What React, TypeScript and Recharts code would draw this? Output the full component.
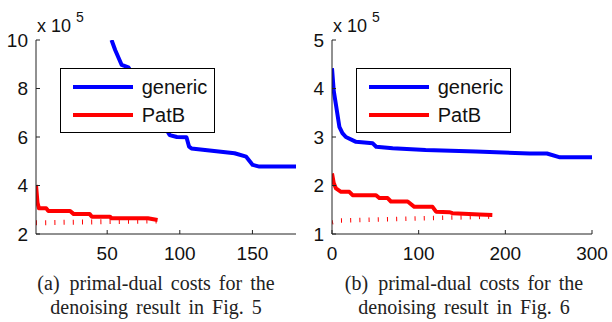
import React from 'react';
import { LineChart, Line, XAxis, YAxis, Legend } from 'recharts';

// ---------- Panel (a) ----------
const aGenericIter = [53, 55.5, 60, 64.6, 70, 78, 86, 93, 98, 104.6, 106.4, 108, 120.5, 137.7, 145.7, 150.2, 154.8, 180];
const aGenericCost = [10, 9.59, 8.97, 8.87, 8.4, 7.6, 6.8, 6.08, 6.0, 5.99, 5.6, 5.53, 5.44, 5.33, 5.19, 4.85, 4.78, 4.78];
const aPatBIter = [1, 2, 3, 8, 9.5, 24.5, 27, 38, 39.5, 52, 53, 78, 84.7];
const aPatBCost = [4.02, 3.3, 3.06, 3.06, 2.95, 2.95, 2.82, 2.82, 2.71, 2.71, 2.65, 2.65, 2.58];
const aDualIter = [1, 30, 60, 84];
const aDualCost = [2.46, 2.49, 2.52, 2.54];
const aXTicks = [50, 100, 150];
const aYTicks = [2, 4, 6, 8, 10];

// ---------- Panel (b) ----------
const bGenericIter = [0, 2, 4.6, 8.5, 12, 16, 27.7, 47, 51, 70, 108, 166, 228, 248, 263, 300];
const bGenericCost = [4.42, 3.95, 3.66, 3.21, 3.08, 3.0, 2.9, 2.87, 2.8, 2.77, 2.73, 2.7, 2.66, 2.66, 2.58, 2.58];
const bPatBIter = [0, 2, 4.6, 10.4, 20, 23.8, 50.8, 54.6, 64.2, 68, 87.3, 95, 116, 120, 135.4, 139, 158, 170, 185];
const bPatBCost = [2.25, 2.05, 1.94, 1.87, 1.87, 1.8, 1.8, 1.74, 1.74, 1.67, 1.67, 1.56, 1.56, 1.46, 1.45, 1.43, 1.41, 1.4, 1.39];
const bDualIter = [0, 10, 100, 185];
const bDualCost = [1.24, 1.28, 1.32, 1.36];
const bXTicks = [0, 100, 200, 300];
const bYTicks = [1, 2, 3, 4, 5];

const seriesNames = ['generic', 'PatB'];
const captionA = ['(a)\u2002primal-dual costs for the', 'denoising result in Fig. 5'];
const captionB = ['(b)\u2002primal-dual costs for the', 'denoising result in Fig. 6'];

const zip = (xs: number[], ys: number[]) => xs.map((x, i) => ({ x, y: ys[i] }));

const SANS = '"Liberation Sans", Arial, Helvetica, sans-serif';
const SERIF = '"Liberation Serif", "Times New Roman", Times, serif';
const BLUE = '#0000ff';
const RED = '#ff0000';
const INK = '#111111';

const renderLegend = (props: any) => {
  const items = (props.payload || [])
    .filter((p: any) => seriesNames.includes(p.value))
    .sort((a: any, b: any) => seriesNames.indexOf(a.value) - seriesNames.indexOf(b.value));
  return (
    <div
      style={{
        position: 'relative',
        width: 155,
        height: 65,
        boxSizing: 'border-box',
        border: '1px solid #000',
        background: '#fff',
      }}
    >
      {items.map((p: any, i: number) => (
        <React.Fragment key={p.value}>
          <div
            style={{
              position: 'absolute',
              left: 12,
              top: 15.7 + i * 28.3,
              width: 60,
              height: 4,
              background: p.color,
            }}
          />
          <span
            style={{
              position: 'absolute',
              left: 80.7,
              top: 8.1 + i * 27.7,
              fontFamily: SANS,
              fontSize: 20,
              lineHeight: '20px',
              color: INK,
              whiteSpace: 'nowrap',
            }}
          >
            {p.value}
          </span>
        </React.Fragment>
      ))}
    </div>
  );
};

type PanelProps = {
  left: number;
  yAxisWidth: number;
  rightMargin: number;
  xDomain: [number, number];
  yDomain: [number, number];
  xTicks: number[];
  yTicks: number[];
  generic: { x: number; y: number }[];
  patb: { x: number; y: number }[];
  dual: { x: number; y: number }[];
  dualWidth: number;
  legendLeft: number;
  caption: string[];
  captionCenter: number;
};

const Panel = (p: PanelProps) => (
  <div style={{ position: 'absolute', left: p.left, top: 0, width: 306, height: 322 }}>
    <LineChart width={306} height={270} margin={{ top: 40, right: p.rightMargin, bottom: 0, left: 0 }}>
      <XAxis
        type="number"
        dataKey="x"
        domain={p.xDomain}
        ticks={p.xTicks}
        interval={0}
        allowDataOverflow
        height={36}
        tickSize={-4}
        tickMargin={16.5}
        axisLine={{ stroke: '#222', strokeWidth: 1 }}
        tickLine={{ stroke: '#222', strokeWidth: 1 }}
        tick={{ fill: INK, fontSize: 19, fontFamily: SANS }}
      />
      <YAxis
        type="number"
        domain={p.yDomain}
        ticks={p.yTicks}
        interval={0}
        allowDataOverflow
        width={p.yAxisWidth}
        tickSize={-4}
        tickMargin={12}
        axisLine={{ stroke: '#222', strokeWidth: 1 }}
        tickLine={{ stroke: '#222', strokeWidth: 1 }}
        tick={{ fill: INK, fontSize: 19, fontFamily: SANS }}
      />
      <Line
        data={p.dual}
        dataKey="y"
        name="dual"
        legendType="none"
        type="linear"
        stroke={RED}
        strokeWidth={p.dualWidth}
        strokeDasharray="1 8.2"
        dot={false}
        activeDot={false}
        isAnimationActive={false}
      />
      <Line
        data={p.patb}
        dataKey="y"
        name="PatB"
        type="linear"
        stroke={RED}
        strokeWidth={4}
        strokeLinejoin="round"
        dot={false}
        activeDot={false}
        isAnimationActive={false}
      />
      <Line
        data={p.generic}
        dataKey="y"
        name="generic"
        type="linear"
        stroke={BLUE}
        strokeWidth={4}
        strokeLinejoin="round"
        dot={false}
        activeDot={false}
        isAnimationActive={false}
      />
      <Legend
        layout="vertical"
        align="center"
        verticalAlign="middle"
        content={renderLegend}
        wrapperStyle={{ left: p.legendLeft, top: 68, width: 155, height: 65, right: 'auto', bottom: 'auto' }}
      />
    </LineChart>
    <div
      style={{
        position: 'absolute',
        left: p.yAxisWidth + 1,
        top: 16.5,
        fontFamily: SANS,
        fontSize: 18,
        lineHeight: '18px',
        color: INK,
        whiteSpace: 'nowrap',
      }}
    >
      x 10
    </div>
    <div
      style={{
        position: 'absolute',
        left: p.yAxisWidth + 40,
        top: 9.9,
        fontFamily: SANS,
        fontSize: 14,
        lineHeight: '14px',
        color: INK,
      }}
    >
      5
    </div>
    {p.caption.map((line, i) => (
      <div
        key={i}
        style={{
          position: 'absolute',
          left: p.captionCenter - 150,
          width: 300,
          top: 271.5 + i * 24,
          textAlign: 'center',
          fontFamily: SERIF,
          fontSize: 20,
          lineHeight: '23.5px',
          wordSpacing: 3,
          color: '#222',
          whiteSpace: 'pre',
        }}
      >
        {line}
      </div>
    ))}
  </div>
);

export default function App() {
  return (
    <div style={{ position: 'absolute', left: 0, top: 0, width: 612, height: 322, background: '#fff', overflow: 'hidden' }}>
      <Panel
        left={0}
        yAxisWidth={36}
        rightMargin={10}
        xDomain={[1, 180]}
        yDomain={[2, 10]}
        xTicks={aXTicks}
        yTicks={aYTicks}
        generic={zip(aGenericIter, aGenericCost)}
        patb={zip(aPatBIter, aPatBCost)}
        dual={zip(aDualIter, aDualCost)}
        dualWidth={5}
        legendLeft={60}
        caption={captionA}
        captionCenter={156}
      />
      <Panel
        left={306}
        yAxisWidth={26}
        rightMargin={20}
        xDomain={[0, 300]}
        yDomain={[1, 5]}
        xTicks={bXTicks}
        yTicks={bYTicks}
        generic={zip(bGenericIter, bGenericCost)}
        patb={zip(bPatBIter, bPatBCost)}
        dual={zip(bDualIter, bDualCost)}
        dualWidth={4.5}
        legendLeft={50}
        caption={captionB}
        captionCenter={158}
      />
    </div>
  );
}
